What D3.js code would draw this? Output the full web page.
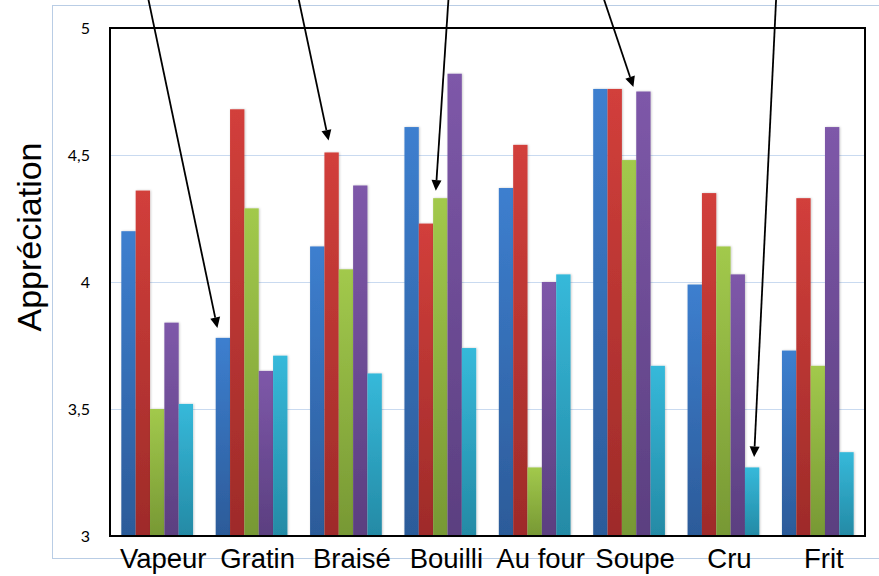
<!DOCTYPE html>
<html>
<head>
<meta charset="utf-8">
<script src="https://cdn.jsdelivr.net/npm/d3@7"></script>
<style>
  html, body { margin: 0; padding: 0; background: #ffffff; }
  svg { display: block; }
</style>
</head>
<body>
<div id="chart"></div>
<script>
// Cooking methods along the x axis
const categories = ["Vapeur", "Gratin", "Braisé", "Bouilli", "Au four", "Soupe", "Cru", "Frit"];

// Five rating series, one bar per method in each
const seriesBlue   = [4.20, 3.78, 4.14, 4.61, 4.37, 4.76, 3.99, 3.73];
const seriesRed    = [4.36, 4.68, 4.51, 4.23, 4.54, 4.76, 4.35, 4.33];
const seriesGreen  = [3.50, 4.29, 4.05, 4.33, 3.27, 4.48, 4.14, 3.67];
const seriesPurple = [3.84, 3.65, 4.38, 4.82, 4.00, 4.75, 4.03, 4.61];
const seriesCyan   = [3.52, 3.71, 3.64, 3.74, 4.03, 3.67, 3.27, 3.33];

// Value axis ticks and their French-formatted labels
const tickValues = [3, 3.5, 4, 4.5, 5];
const tickLabels = ["3", "3,5", "4", "4,5", "5"];

// Callout arrows: which bar each points to (category, series index)
const arrowCategories = ["Gratin", "Braisé", "Bouilli", "Soupe", "Cru"];
const arrowSeries     = [0, 1, 2, 3, 4];

const seriesList = [seriesBlue, seriesRed, seriesGreen, seriesPurple, seriesCyan];
const seriesKeys = ["s1", "s2", "s3", "s4", "s5"];
const palette = [
  { top: "#3d7fcf", bottom: "#2c5b99" },
  { top: "#d23f3b", bottom: "#9e2b29" },
  { top: "#a2c94c", bottom: "#779834" },
  { top: "#7e58a9", bottom: "#5b3f80" },
  { top: "#36b9da", bottom: "#248aa5" }
];

// Arrow geometry (lean = horizontal drift per vertical pixel, tip offsets from bar top)
const arrowStyle = [
  { lean: 0.210, dx: -5.5, gap: 10 },
  { lean: 0.212, dx: -3,   gap: 12 },
  { lean: -0.066, dx: -4.5, gap: 7.5 },
  { lean: 0.336, dx: -10,  gap: 4.5 },
  { lean: -0.048, dx: 2,   gap: 10.5 }
];

const W = 879, H = 576;
const plot = { left: 110, right: 865, top: 28, bottom: 536 };

const svg = d3.select("#chart").append("svg")
  .attr("width", W).attr("height", H)
  .attr("font-family", "'Liberation Sans', Arial, sans-serif");

const defs = svg.append("defs");
palette.forEach((c, i) => {
  const g = defs.append("linearGradient")
    .attr("id", "grad" + i)
    .attr("x1", 0).attr("y1", 0).attr("x2", 0).attr("y2", 1);
  g.append("stop").attr("offset", "0%").attr("stop-color", c.top);
  g.append("stop").attr("offset", "100%").attr("stop-color", c.bottom);
});
const shadow = defs.append("filter").attr("id", "barShadow")
  .attr("x", "-30%").attr("y", "-5%").attr("width", "160%").attr("height", "110%");
shadow.append("feDropShadow")
  .attr("dx", 0.8).attr("dy", 0).attr("stdDeviation", 0.9)
  .attr("flood-color", "#000").attr("flood-opacity", 0.22);

// Outer chart-area frame
svg.append("rect")
  .attr("x", 52.5).attr("y", 5.5)
  .attr("width", W).attr("height", 553)
  .attr("fill", "none").attr("stroke", "#b9cde5").attr("stroke-width", 1);

const x0 = d3.scaleBand()
  .domain(categories)
  .range([plot.left, plot.right])
  .paddingInner(0.24)
  .paddingOuter(0.12);

const x1 = d3.scaleBand()
  .domain(seriesKeys)
  .range([0, x0.bandwidth()]);

const y = d3.scaleLinear()
  .domain([3, 5])
  .range([plot.bottom, plot.top]);

// Horizontal gridlines
svg.append("g")
  .selectAll("line")
  .data(tickValues.filter(v => v > 3 && v < 5))
  .join("line")
  .attr("x1", plot.left).attr("x2", plot.right)
  .attr("y1", d => Math.round(y(d)) + 0.5)
  .attr("y2", d => Math.round(y(d)) + 0.5)
  .attr("stroke", "#c9daf0").attr("stroke-width", 1.2);

// Bars
const rows = categories.map((c, ci) => ({
  cat: c,
  values: seriesList.map((s, si) => ({ key: seriesKeys[si], idx: si, v: s[ci] }))
}));

svg.append("g")
  .selectAll("g")
  .data(rows)
  .join("g")
  .attr("transform", d => `translate(${x0(d.cat)},0)`)
  .selectAll("rect")
  .data(d => d.values)
  .join("rect")
  .attr("x", d => x1(d.key))
  .attr("width", x1.bandwidth())
  .attr("y", d => y(d.v))
  .attr("height", d => y(3) - y(d.v))
  .attr("fill", d => `url(#grad${d.idx})`)
  .attr("filter", "url(#barShadow)");

// Plot-area frame
svg.append("rect")
  .attr("x", plot.left).attr("y", plot.top)
  .attr("width", plot.right - plot.left)
  .attr("height", plot.bottom - plot.top)
  .attr("fill", "none").attr("stroke", "#000").attr("stroke-width", 2);

// Value axis labels
const yAxis = d3.axisLeft(y)
  .tickValues(tickValues)
  .tickFormat((d, i) => tickLabels[i])
  .tickSize(0)
  .tickPadding(20);
const yG = svg.append("g")
  .attr("transform", `translate(${plot.left},0)`)
  .call(yAxis);
yG.select(".domain").remove();
yG.selectAll("text")
  .attr("font-family", "Lato, 'Open Sans', sans-serif")
  .attr("font-size", 16)
  .attr("fill", "#000");

// Category labels
const xAxis = d3.axisBottom(x0).tickSize(0).tickPadding(0);
const xG = svg.append("g")
  .attr("transform", `translate(6,${plot.bottom})`)
  .call(xAxis);
xG.select(".domain").remove();
xG.selectAll("text")
  .attr("dy", null)
  .attr("y", 32)
  .attr("font-size", 27.5)
  .attr("fill", "#000");

// Value axis title
svg.append("text")
  .attr("transform", "translate(41,237) rotate(-90)")
  .attr("text-anchor", "middle")
  .attr("font-size", 34)
  .attr("fill", "#000")
  .text("Appréciation");

// Callout arrows
const arrows = svg.append("g");
arrowCategories.forEach((cat, i) => {
  const si = arrowSeries[i];
  const ci = categories.indexOf(cat);
  const st = arrowStyle[i];
  const tipX = x0(cat) + x1(seriesKeys[si]) + x1.bandwidth() / 2 + st.dx;
  const tipY = y(seriesList[si][ci]) - st.gap;
  const startY = -20;
  const startX = tipX - st.lean * (tipY - startY);
  const ang = Math.atan2(tipY - startY, tipX - startX);
  const headLen = 10.5, headHalf = 5;
  const bx = tipX - headLen * Math.cos(ang), by = tipY - headLen * Math.sin(ang);
  const px = -Math.sin(ang) * headHalf, py = Math.cos(ang) * headHalf;
  arrows.append("line")
    .attr("x1", startX).attr("y1", startY)
    .attr("x2", bx).attr("y2", by)
    .attr("stroke", "#000").attr("stroke-width", 1.8);
  arrows.append("path")
    .attr("d", `M${tipX},${tipY}L${bx + px},${by + py}L${bx - px},${by - py}Z`)
    .attr("fill", "#000");
});
</script>
</body>
</html>
